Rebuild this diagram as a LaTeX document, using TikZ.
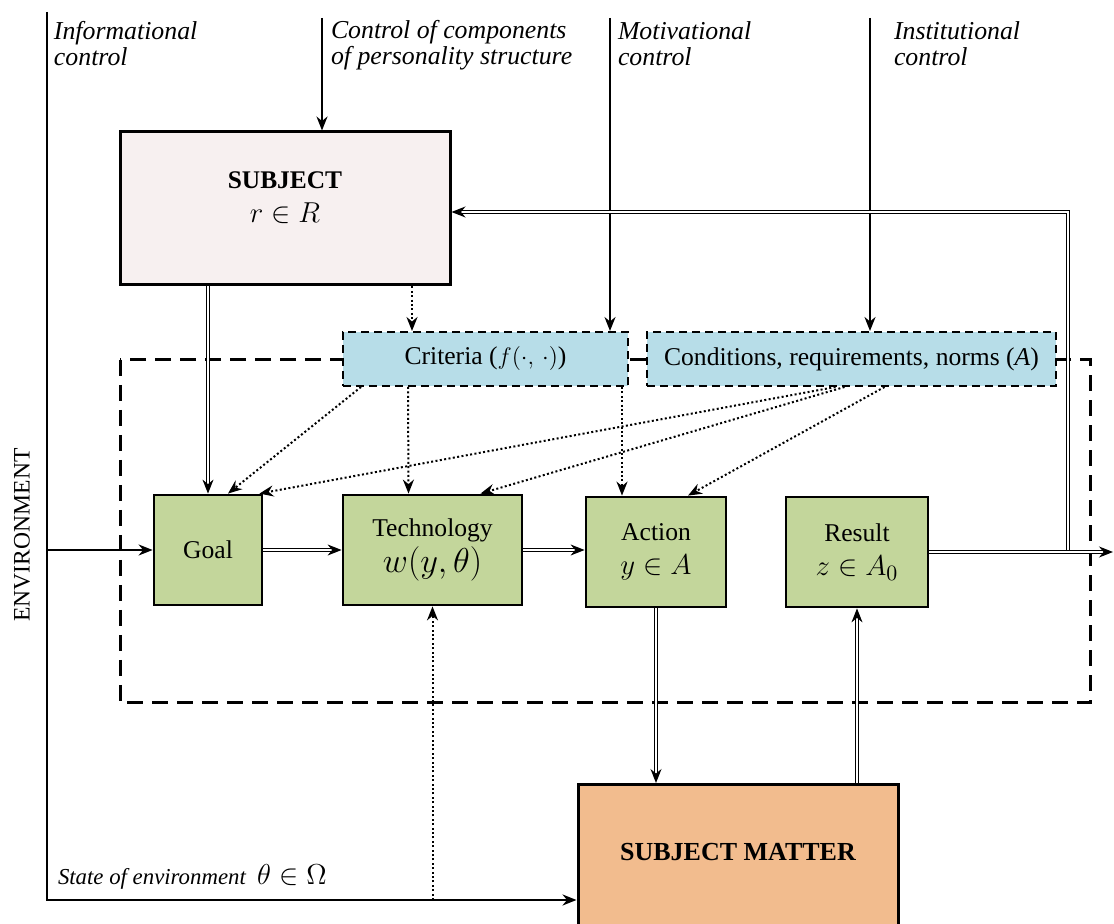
\documentclass[tikz,border=0pt]{standalone}
\usepackage{fontspec}
\setmainfont{Liberation Serif}
\usetikzlibrary{arrows.meta}
\definecolor{subjpink}{HTML}{F7F0F0}
\definecolor{critblue}{HTML}{B7DDE8}
\definecolor{stagegreen}{HTML}{C3D69B}
\definecolor{matterorange}{HTML}{F2BC8E}
\tikzset{
  stagebox/.style={draw, line width=1.4pt, fill=stagegreen, align=center, minimum height=55pt, inner sep=2pt, font=\fontsize{12.8}{14}\selectfont},
  normbox/.style={draw, line width=1pt, dash pattern=on 4pt off 2.5pt, fill=critblue, minimum height=27pt, font=\fontsize{12.8}{14}\selectfont},
  ctrltext/.style={anchor=north west, align=left, inner sep=0pt, font=\itshape\fontsize{12.9}{13}\selectfont},
  flow/.style={double, double distance=1.1pt, line width=0.6pt, -{Stealth[length=7pt, width=5.5pt]}},
  dotflow/.style={line width=1pt, dash pattern=on 1pt off 1.2pt, -{Stealth[length=7pt, width=5.5pt]}}
}
\begin{document}
\begin{tikzpicture}[x=0.5pt, y=-0.5pt, >={Stealth[length=7pt, width=5.5pt]}, line width=1pt]
\useasboundingbox (0,0) rectangle (1114,924);
\clip (0,0) rectangle (1114,924);

% 1. frame of the activity (lowest layer)
\draw[line width=1.5pt, dash pattern=on 8pt off 4.5pt] (120,360) rectangle (1090,703);

% 2. blocks
\node[draw, line width=1.5pt, fill=subjpink, minimum width=165pt, minimum height=76.5pt, align=center, text depth=11pt] (subject) at (285,208.5)
  {{\bfseries\fontsize{12.7}{13}\selectfont SUBJECT}\\[5pt] {\fontsize{15}{17}\selectfont$r\in R$}};
\node[normbox, minimum width=142.5pt] (criteria) at (485.5,359) {Criteria (${\textstyle f}(\cdot,\,\cdot)$)};
\node[normbox, minimum width=204.5pt] (conditions) at (851.5,359) {Conditions, requirements, norms (\textit{A})};

\node[stagebox, minimum width=54pt] (goal) at (208,550) {Goal};
\node[stagebox, minimum width=89.5pt] (tech) at (432.5,550) {Technology\\[1pt] {\fontsize{18}{18}\selectfont$w(y,\theta)$}};
\node[stagebox, minimum width=70pt] (action) at (656,552) {Action\\[3pt] {\fontsize{15}{17}\selectfont$y\in A$}};
\node[stagebox, minimum width=71pt] (result) at (857,552) {Result\\[3pt] {\fontsize{15}{17}\selectfont$z\in A_0$}};

\node[draw, line width=1.5pt, fill=matterorange, anchor=north, minimum width=160pt, minimum height=107pt, text depth=40pt,
  font=\bfseries\fontsize{13}{14}\selectfont] (matter) at (738,783) {SUBJECT MATTER};

% 3. texts
\node[rotate=90, font=\fontsize{11.8}{13}\selectfont] (envlabel) at (22,535) {ENVIRONMENT};
\node[ctrltext] (infolabel) at (53,20) {Informational\\control};
\node[ctrltext] (perslabel) at (330,19) {Control of components\\of personality structure};
\node[ctrltext] (motivlabel) at (617,21) {Motivational\\control};
\node[ctrltext] (instlabel) at (893,21) {Institutional\\control};
\node[anchor=base west, inner sep=0pt] (statelabel) at (57,884)
  {\itshape\fontsize{11.4}{12}\selectfont State of environment\ \ {\upshape\fontsize{15}{17}\selectfont$\theta\in\Omega$}};

% free ends
\coordinate (infotop) at (47,12);
\coordinate (envcorner) at (47,900);
\coordinate (perstop) at (322,18);
\coordinate (motivtop) at (610,18);
\coordinate (insttop) at (870,18);
\coordinate (outend) at (1113,552);
\coordinate (fbbot) at (1068,552);
\coordinate (fbtop) at (1068,212);
\coordinate (crittop) at ([xshift=35pt]criteria.north west);

% 4. controls and environment
\draw[->] (infotop) -- (envcorner) -- (envcorner -| matter.west);
\draw[->] (goal.west -| infotop) -- (goal.west);
\draw[->] (perstop) -- (perstop |- subject.north);
\draw[->] (motivtop) -- (motivtop |- criteria.north);
\draw[->] (insttop) -- (insttop |- conditions.north);

% 5. main flow (double lines)
\draw[flow] (fbbot) -- (fbtop) -- (fbtop -| subject.east);
\draw[flow] (subject.south -| goal.north) -- (goal.north);
\draw[flow] (goal.east) -- (tech.west);
\draw[flow] (tech.east) -- (tech.east -| action.west);
\draw[flow] (action.south) -- (action.south |- matter.north);
\draw[flow] (result.south |- matter.north) -- (result.south);
\draw[flow] (result.east) -- (outend);

% 6. dotted influences
\draw[dotflow] (subject.south -| crittop) -- (crittop);
\draw[dotflow] ([xshift=9.5pt]criteria.south west) -- ([xshift=10pt]goal.north);
\draw[dotflow] ([xshift=-38.75pt]criteria.south) -- ([xshift=-12pt]tech.north);
\draw[dotflow] ([xshift=68.25pt]criteria.south) -- ([xshift=-17pt]action.north);
\draw[dotflow] ([xshift=-8pt]conditions.south) -- ([xshift=-2pt]goal.north east);
\draw[dotflow] ([xshift=-3.5pt]conditions.south) -- ([xshift=24pt]tech.north);
\draw[dotflow] ([xshift=16.5pt]conditions.south) -- ([xshift=16pt]action.north);
\draw[dotflow] (tech.south |- envcorner) -- (tech.south);
\end{tikzpicture}
\end{document}
